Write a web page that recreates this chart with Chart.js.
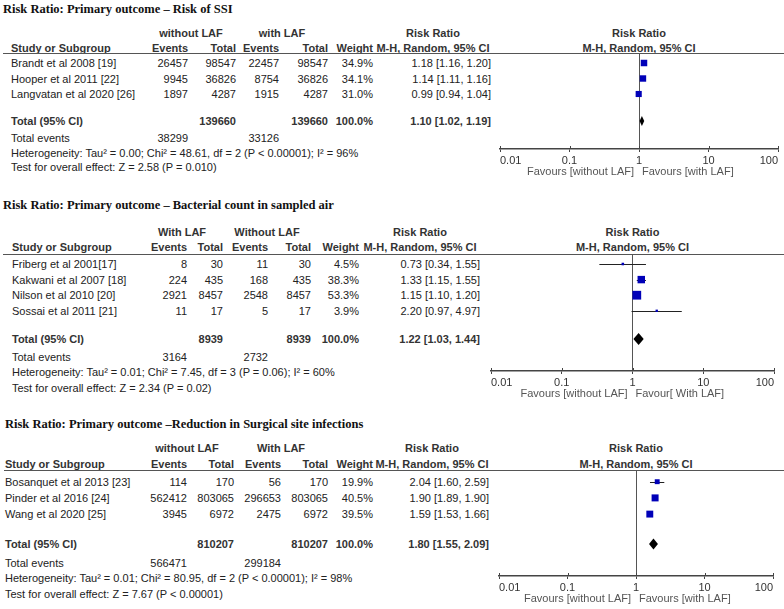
<!DOCTYPE html>
<html>
<head>
<meta charset="utf-8">
<script src="https://cdn.jsdelivr.net/npm/chart.js@4.4.1/dist/chart.umd.min.js"></script>
<style>
  html, body { margin:0; padding:0; background:#fff; width:784px; height:609px; overflow:hidden; position:relative; }
  .t { position:absolute; white-space:nowrap; line-height:1; font-family:"Liberation Sans", Arial, sans-serif; font-size:11px; color:#222; }
  .b { font-weight:bold; color:#333; }
  .ttl { font-family:"Liberation Serif", "Times New Roman", serif; font-weight:bold; font-size:12.5px; color:#111; }
  .hl { position:absolute; height:0; border-top:1.5px solid #555; }
  canvas { position:absolute; }
</style>
</head>
<body>
<script>
// ---------- shared axis ----------
const tickValues = [0.01, 0.1, 1, 10, 100];
const tickLabels = ['0.01', '0.1', '1', '10', '100'];

// ---------- Panel 1: Risk of SSI ----------
const title1 = 'Risk Ratio: Primary outcome – Risk of SSI';
const groups1 = ['without LAF', 'with LAF'];
const studies1 = ['Brandt et al 2008 [19]', 'Hooper et al 2011 [22]', 'Langvatan et al 2020 [26]'];
const eventsA1 = [26457, 9945, 1897];
const totalA1 = [98547, 36826, 4287];
const eventsB1 = [22457, 8754, 1915];
const totalB1 = [98547, 36826, 4287];
const weight1 = [34.9, 34.1, 31.0];
const rr1 = [1.18, 1.14, 0.99];
const lo1 = [1.16, 1.11, 0.94];
const hi1 = [1.20, 1.16, 1.04];
const pooled1 = [1.10, 1.02, 1.19];
const sumTotals1 = [139660, 139660];
const sumWeight1 = 100.0;
const sumEvents1 = [38299, 33126];
const het1 = 'Heterogeneity: Tau² = 0.00; Chi² = 48.61, df = 2 (P < 0.00001); I² = 96%';
const test1 = 'Test for overall effect: Z = 2.58 (P = 0.010)';
const favours1 = ['Favours [without LAF]', 'Favours [with LAF]'];

// ---------- Panel 2: Bacterial count in sampled air ----------
const title2 = 'Risk Ratio: Primary outcome – Bacterial count in sampled air';
const groups2 = ['With LAF', 'Without LAF'];
const studies2 = ['Friberg et al 2001[17]', 'Kakwani et al 2007 [18]', 'Nilson et al 2010 [20]', 'Sossai et al 2011 [21]'];
const eventsA2 = [8, 224, 2921, 11];
const totalA2 = [30, 435, 8457, 17];
const eventsB2 = [11, 168, 2548, 5];
const totalB2 = [30, 435, 8457, 17];
const weight2 = [4.5, 38.3, 53.3, 3.9];
const rr2 = [0.73, 1.33, 1.15, 2.20];
const lo2 = [0.34, 1.15, 1.10, 0.97];
const hi2 = [1.55, 1.55, 1.20, 4.97];
const pooled2 = [1.22, 1.03, 1.44];
const sumTotals2 = [8939, 8939];
const sumWeight2 = 100.0;
const sumEvents2 = [3164, 2732];
const het2 = 'Heterogeneity: Tau² = 0.01; Chi² = 7.45, df = 3 (P = 0.06); I² = 60%';
const test2 = 'Test for overall effect: Z = 2.34 (P = 0.02)';
const favours2 = ['Favours [without LAF]', 'Favour[ With LAF]'];

// ---------- Panel 3: Reduction in Surgical site infections ----------
const title3 = 'Risk Ratio: Primary outcome –Reduction in Surgical site infections';
const groups3 = ['without LAF', 'With LAF'];
const studies3 = ['Bosanquet et al 2013 [23]', 'Pinder et al 2016 [24]', 'Wang et al 2020 [25]'];
const eventsA3 = [114, 562412, 3945];
const totalA3 = [170, 803065, 6972];
const eventsB3 = [56, 296653, 2475];
const totalB3 = [170, 803065, 6972];
const weight3 = [19.9, 40.5, 39.5];
const rr3 = [2.04, 1.90, 1.59];
const lo3 = [1.60, 1.89, 1.53];
const hi3 = [2.59, 1.90, 1.66];
const pooled3 = [1.80, 1.55, 2.09];
const sumTotals3 = [810207, 810207];
const sumWeight3 = 100.0;
const sumEvents3 = [566471, 299184];
const het3 = 'Heterogeneity: Tau² = 0.01; Chi² = 80.95, df = 2 (P < 0.00001); I² = 98%';
const test3 = 'Test for overall effect: Z = 7.67 (P < 0.00001)';
const favours3 = ['Favours [without LAF]', 'Favours [with LAF]'];

// ---------- layout (positions only) ----------
const layouts = [
  { titleX:3, titleY:9, h1Y:33, h2Y:48, lineY:54, lineX0:3, row0:63, sp:15.5, totY:121, evY:138, hetY:153, testY:167,
    nameX:11, cEvA:188, cTotA:236, cEvB:279, cTotB:328, cWt:373, gA:191, gB:282, rrR:491, rrH:433,
    px0:500, px1:778, axisY:149, k:1.1, dh:5 },
  { titleX:3, titleY:205, h1Y:232, h2Y:247, lineY:255, lineX0:3, row0:264, sp:15.6, totY:339, evY:356.5, hetY:371.5, testY:387.5,
    nameX:12, cEvA:187, cTotA:223, cEvB:268, cTotB:311, cWt:359, gA:182, gB:267, rrR:480, rrH:420,
    px0:491, px1:774, axisY:371, k:1.2, dh:6 },
  { titleX:5, titleY:424, h1Y:448, h2Y:464, lineY:471, lineX0:4, row0:481.7, sp:16.2, totY:544, evY:562.5, hetY:578, testY:594,
    nameX:5, cEvA:187, cTotA:234, cEvB:281, cTotB:328, cWt:373, gA:187, gB:281, rrR:489, rrH:432,
    px0:499, px1:773, axisY:576, k:1.1, dh:5.5 }
];

function txt(x, y, s, align, cls) {
  const d = document.createElement('div');
  d.className = 't ' + (cls || '');
  d.textContent = s;
  const tx = align === 'right' ? '-100%' : align === 'center' ? '-50%' : '0';
  d.style.left = x + 'px';
  d.style.top = y + 'px';
  d.style.transform = 'translate(' + tx + ',-50%)';
  document.body.appendChild(d);
  return d;
}
function hline(x0, x1, y) {
  const d = document.createElement('div');
  d.className = 'hl';
  d.style.left = x0 + 'px'; d.style.width = (x1 - x0) + 'px'; d.style.top = (y - 0.75) + 'px';
  document.body.appendChild(d);
}
const fmtRR = (r, l, h) => r.toFixed(2) + ' [' + l.toFixed(2) + ', ' + h.toFixed(2) + ']';

const forestPlugin = {
  id: 'forest',
  beforeDatasetsDraw(chart, args, o) {
    const ctx = chart.ctx, xs = chart.scales.x, ys = chart.scales.y;
    ctx.save();
    ctx.strokeStyle = '#222'; ctx.lineWidth = 1;
    o.lo.forEach((l, i) => {
      const y = Math.round(ys.getPixelForValue(i)) + 0.5;
      ctx.beginPath();
      ctx.moveTo(xs.getPixelForValue(l), y);
      ctx.lineTo(xs.getPixelForValue(o.hi[i]), y);
      ctx.stroke();
    });
    const yT = ys.getPixelForValue(o.totalRow);
    ctx.fillStyle = '#000';
    ctx.beginPath();
    ctx.moveTo(xs.getPixelForValue(o.pooled[1]), yT);
    ctx.lineTo(xs.getPixelForValue(o.pooled[0]), yT - o.dh);
    ctx.lineTo(xs.getPixelForValue(o.pooled[2]), yT);
    ctx.lineTo(xs.getPixelForValue(o.pooled[0]), yT + o.dh);
    ctx.closePath();
    ctx.fill();
    ctx.restore();
  },
  afterDraw(chart, args, o) {
    const ctx = chart.ctx, xs = chart.scales.x;
    const yA = chart.chartArea.bottom;
    ctx.save();
    ctx.strokeStyle = '#444'; ctx.lineWidth = 1;
    xs.ticks.forEach(t => {
      const x = Math.round(xs.getPixelForValue(t.value)) + 0.5;
      ctx.beginPath(); ctx.moveTo(x, yA); ctx.lineTo(x, yA - 3); ctx.stroke();
    });
    const x1 = xs.getPixelForValue(1);
    ctx.font = '11px "Liberation Sans", Arial, sans-serif';
    ctx.fillStyle = '#555';
    ctx.textBaseline = 'middle';
    ctx.textAlign = 'right';
    ctx.fillText(o.fav[0], x1 - 5, yA + o.favDy);
    ctx.textAlign = 'left';
    ctx.fillText(o.fav[1], x1 + 3, yA + o.favDy);
    ctx.restore();
  }
};

function panel(idx, title, groups, studies, evA, totA, evB, totB, wt, rr, lo, hi, pooled, sumTot, sumWt, sumEv, het, test, fav) {
  const L = layouts[idx];
  txt(L.titleX, L.titleY, title, 'left', 'ttl');
  txt(L.gA, L.h1Y, groups[0], 'center', 'b');
  txt(L.gB, L.h1Y, groups[1], 'center', 'b');
  txt(L.rrH, L.h1Y, 'Risk Ratio', 'center', 'b');
  txt((L.px0 + L.px1) / 2, L.h1Y, 'Risk Ratio', 'center', 'b');
  txt(L.nameX, L.h2Y, 'Study or Subgroup', 'left', 'b');
  txt(L.cEvA, L.h2Y, 'Events', 'right', 'b');
  txt(L.cTotA, L.h2Y, 'Total', 'right', 'b');
  txt(L.cEvB, L.h2Y, 'Events', 'right', 'b');
  txt(L.cTotB, L.h2Y, 'Total', 'right', 'b');
  txt(L.cWt, L.h2Y, 'Weight', 'right', 'b');
  txt(L.rrH, L.h2Y, 'M-H, Random, 95% CI', 'center', 'b');
  txt((L.px0 + L.px1) / 2, L.h2Y, 'M-H, Random, 95% CI', 'center', 'b');
  hline(L.lineX0, 784, L.lineY);
  studies.forEach((s, i) => {
    const y = L.row0 + i * L.sp;
    txt(L.nameX, y, s, 'left');
    txt(L.cEvA, y, String(evA[i]), 'right');
    txt(L.cTotA, y, String(totA[i]), 'right');
    txt(L.cEvB, y, String(evB[i]), 'right');
    txt(L.cTotB, y, String(totB[i]), 'right');
    txt(L.cWt, y, wt[i].toFixed(1) + '%', 'right');
    txt(L.rrR, y, fmtRR(rr[i], lo[i], hi[i]), 'right');
  });
  txt(L.nameX, L.totY, 'Total (95% CI)', 'left', 'b');
  txt(L.cTotA, L.totY, String(sumTot[0]), 'right', 'b');
  txt(L.cTotB, L.totY, String(sumTot[1]), 'right', 'b');
  txt(L.cWt, L.totY, sumWt.toFixed(1) + '%', 'right', 'b');
  txt(L.rrR, L.totY, fmtRR(pooled[0], pooled[1], pooled[2]), 'right', 'b');
  txt(L.nameX, L.evY, 'Total events', 'left');
  txt(L.cEvA, L.evY, String(sumEv[0]), 'right');
  txt(L.cEvB, L.evY, String(sumEv[1]), 'right');
  txt(L.nameX, L.hetY, het, 'left');
  txt(L.nameX, L.testY, test, 'left');

  // chart
  const cLeft = L.px0 - 40, cRight = 810, padT = 10, axisH = 30;
  const cTop = L.lineY - padT;
  const plotH = L.axisY - L.lineY;
  const cv = document.createElement('canvas');
  cv.width = cRight - cLeft; cv.height = padT + plotH + axisH;
  cv.style.left = cLeft + 'px'; cv.style.top = cTop + 'px';
  cv.style.width = cv.width + 'px'; cv.style.height = cv.height + 'px';
  document.body.appendChild(cv);
  const yMin = -(L.row0 - L.lineY) / L.sp;
  const yMax = yMin + plotH / L.sp;
  const totalRow = yMin + (L.totY - L.lineY) / L.sp;
  new Chart(cv, {
    type: 'scatter',
    data: { datasets: [{
      data: rr.map((v, i) => ({ x: v, y: i })),
      pointStyle: 'rect',
      pointRadius: wt.map(w => L.k * Math.sqrt(w) / Math.SQRT2),
      pointHoverRadius: wt.map(w => L.k * Math.sqrt(w) / Math.SQRT2),
      backgroundColor: '#0000b8',
      borderColor: '#0000b8',
      borderWidth: 0
    }]},
    options: {
      responsive: false, animation: false, devicePixelRatio: 1,
      layout: { padding: { left: L.px0 - cLeft, right: cRight - L.px1, top: padT, bottom: 0 } },
      plugins: {
        legend: { display: false }, tooltip: { enabled: false },
        forest: { lo, hi, pooled, totalRow, dh: L.dh, fav, favDy: 23 }
      },
      scales: {
        x: {
          type: 'logarithmic', min: 0.01, max: 100,
          afterBuildTicks: s => { s.ticks = tickValues.map(v => ({ value: v })); },
          afterFit: s => { s.height = axisH; },
          ticks: { callback: (v, i) => tickLabels[i], autoSkip: false, maxRotation: 0, padding: 2, align: 'inner',
                   color: '#333', font: { family: '"Liberation Sans", Arial, sans-serif', size: 11 } },
          grid: { color: c => (c.tick && c.tick.value === 1) ? '#555' : 'rgba(0,0,0,0)', tickColor: '#444',
                  tickLength: 3, lineWidth: 1, drawOnChartArea: true },
          border: { display: true, color: '#444', width: 1.5 }
        },
        y: { display: false, reverse: true, min: yMin, max: yMax }
      }
    },
    plugins: [forestPlugin]
  });
}

panel(0, title1, groups1, studies1, eventsA1, totalA1, eventsB1, totalB1, weight1, rr1, lo1, hi1, pooled1, sumTotals1, sumWeight1, sumEvents1, het1, test1, favours1);
panel(1, title2, groups2, studies2, eventsA2, totalA2, eventsB2, totalB2, weight2, rr2, lo2, hi2, pooled2, sumTotals2, sumWeight2, sumEvents2, het2, test2, favours2);
panel(2, title3, groups3, studies3, eventsA3, totalA3, eventsB3, totalB3, weight3, rr3, lo3, hi3, pooled3, sumTotals3, sumWeight3, sumEvents3, het3, test3, favours3);
</script>
</body>
</html>
